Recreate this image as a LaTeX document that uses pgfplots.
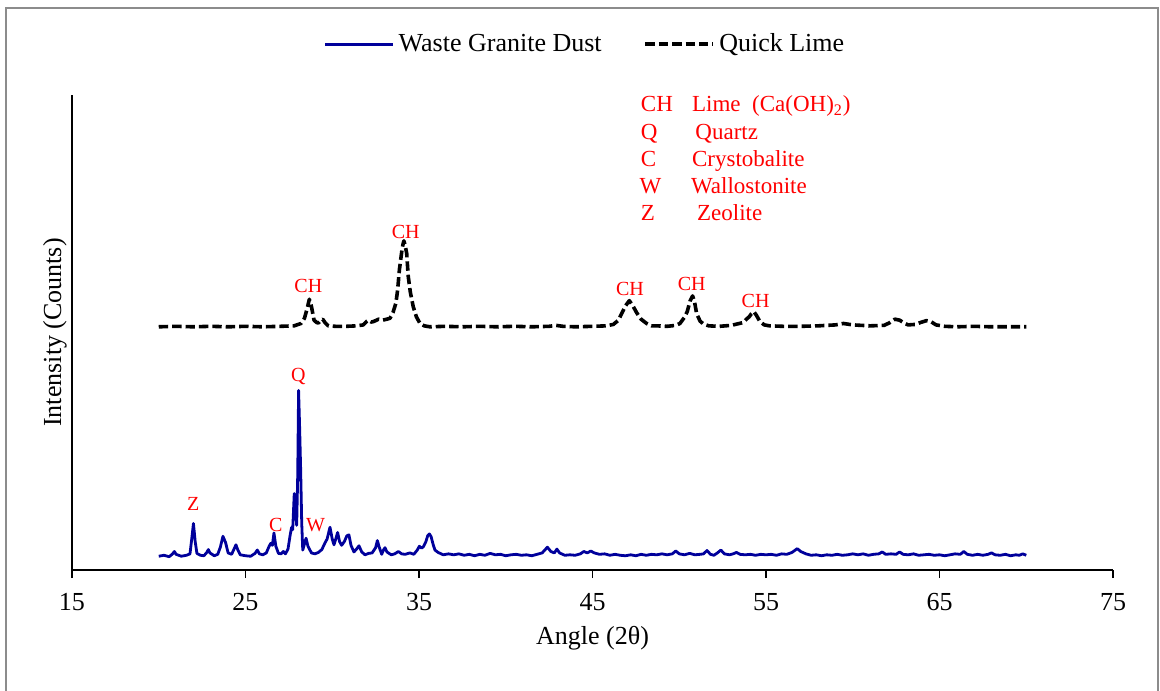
\documentclass[border=0pt]{standalone}
\usepackage{pgfplots}
\pgfplotsset{compat=1.18}
\usepackage{fontspec}
\setmainfont{Liberation Serif}
\definecolor{gdblue}{RGB}{0,0,155}
\begin{document}
\begin{tikzpicture}
\useasboundingbox (-36pt,-60pt) rectangle (544pt,285pt);
\draw[black!45, line width=0.8pt] (-33pt,-61pt) -- (-33pt,281pt) -- (543pt,281pt) -- (543pt,-61pt);
\begin{axis}[
  at={(0,0)}, anchor=south west,
  scale only axis, width=520.5pt, height=237.5pt,
  xmin=15, xmax=75, ymin=0, ymax=100,
  axis x line=bottom, axis y line=left,
  axis line style={-, black, line width=0.6pt},
  xtick={15,25,...,75}, ytick=\empty,
  tick align=outside, major tick length=4pt,
  tick style={black, line width=0.6pt},
  /pgf/number format/assume math mode=true,
  tick label style={font=\fontsize{13}{15}\selectfont},
  xticklabel style={yshift=-4pt},
  xlabel={Angle (2θ)}, ylabel={Intensity (Counts)},
  label style={font=\fontsize{13}{15}\selectfont},
  xlabel style={at={(axis description cs:0.5,0)}, anchor=center, yshift=-34pt},
  ylabel style={at={(axis description cs:-0.0163,0.5)}, anchor=center, rotate=0},
  clip=false,
  legend columns=2,
  legend style={at={(0.4938,1.107)}, anchor=center, draw=none, fill=none,
    font=\fontsize{13}{15}\selectfont,
    /tikz/every even column/.append style={column sep=19pt}},
  legend image code/.code={\draw[#1] (0pt,0pt) -- (34pt,0pt);},
]
\addplot[gdblue, line width=1.4pt, line join=round] coordinates {
(20.0,2.9)(20.3,3.1)(20.6,2.8)(20.8,3.4)(20.9,3.9)(21.0,3.3)(21.3,2.9)(21.6,3.1)(21.8,3.4)(21.9,6.5)(22.0,9.8)(22.1,6.0)(22.2,3.5)(22.4,3.1)(22.6,3.0)(22.75,3.6)(22.86,4.3)(22.95,3.6)(23.2,3.0)(23.4,3.3)(23.55,4.8)(23.7,7.1)(23.85,5.8)(24.0,3.6)(24.2,3.3)(24.35,4.5)(24.45,5.3)(24.55,4.3)(24.7,3.2)(25.0,3.0)(25.3,2.9)(25.55,3.5)(25.68,4.2)(25.8,3.4)(26.0,3.2)(26.2,3.6)(26.35,4.9)(26.45,5.6)(26.55,5.2)(26.64,7.8)(26.75,5.0)(26.9,3.5)(27.05,3.4)(27.18,3.9)(27.3,3.4)(27.45,4.4)(27.58,7.5)(27.66,9.0)(27.72,8.5)(27.81,16.1)(27.88,13.0)(27.95,9.4)(28.01,20.0)(28.06,37.8)(28.12,30.0)(28.18,21.0)(28.24,10.0)(28.3,4.2)(28.4,5.5)(28.49,6.7)(28.6,5.0)(28.8,3.6)(29.0,3.4)(29.2,3.7)(29.4,4.3)(29.58,5.7)(29.7,6.5)(29.87,9.0)(30.0,6.5)(30.1,5.3)(30.2,6.5)(30.31,7.9)(30.42,6.0)(30.54,5.2)(30.7,6.0)(30.84,7.2)(30.96,7.4)(31.08,5.2)(31.25,3.8)(31.4,4.4)(31.54,5.1)(31.7,3.8)(31.89,3.2)(32.1,3.5)(32.3,3.6)(32.5,4.7)(32.6,6.2)(32.7,4.9)(32.85,3.3)(32.95,4.2)(33.04,4.7)(33.15,3.8)(33.4,3.2)(33.6,3.4)(33.81,3.9)(34.0,3.4)(34.2,3.3)(34.48,3.6)(34.7,3.3)(34.9,4.2)(35.02,5.0)(35.15,4.6)(35.25,4.9)(35.4,6.0)(35.5,7.2)(35.6,7.6)(35.7,7.0)(35.82,5.3)(35.92,4.2)(36.1,3.7)(36.4,3.2)(36.7,3.4)(37.0,3.2)(37.3,3.4)(37.6,3.1)(37.9,3.3)(38.2,3.0)(38.5,3.3)(38.8,3.1)(39.1,3.5)(39.4,3.2)(39.7,3.3)(40.0,3.0)(40.3,3.2)(40.6,3.3)(40.9,3.1)(41.2,3.2)(41.5,3.0)(41.8,3.3)(42.1,3.6)(42.4,4.8)(42.6,3.9)(42.8,3.6)(42.95,4.4)(43.1,3.6)(43.4,3.1)(43.7,3.2)(44.0,3.1)(44.3,3.4)(44.5,3.9)(44.7,3.6)(44.9,4.0)(45.1,3.6)(45.4,3.3)(45.7,3.4)(46.0,3.1)(46.3,3.3)(46.6,3.1)(46.9,3.0)(47.2,3.2)(47.5,3.0)(47.8,3.3)(48.1,3.1)(48.4,3.3)(48.7,3.2)(49.0,3.4)(49.3,3.2)(49.6,3.4)(49.8,4.0)(50.0,3.4)(50.3,3.2)(50.6,3.5)(50.9,3.2)(51.2,3.3)(51.4,3.4)(51.6,4.1)(51.8,3.3)(52.0,3.1)(52.2,3.6)(52.4,4.2)(52.6,3.4)(52.9,3.2)(53.1,3.4)(53.3,3.7)(53.5,3.3)(53.8,3.2)(54.1,3.3)(54.4,3.1)(54.7,3.3)(55.0,3.2)(55.3,3.3)(55.6,3.1)(55.9,3.4)(56.2,3.3)(56.5,3.7)(56.8,4.5)(57.0,3.9)(57.3,3.4)(57.6,3.1)(57.9,3.2)(58.2,3.0)(58.5,3.2)(58.8,3.1)(59.1,3.3)(59.4,3.1)(59.7,3.2)(60.0,3.4)(60.3,3.2)(60.6,3.4)(60.9,3.1)(61.2,3.3)(61.5,3.4)(61.7,3.8)(61.9,3.3)(62.2,3.4)(62.5,3.3)(62.7,3.8)(62.9,3.3)(63.2,3.2)(63.5,3.4)(63.8,3.1)(64.1,3.2)(64.4,3.3)(64.7,3.1)(65.0,3.2)(65.3,3.0)(65.6,3.2)(65.9,3.4)(66.2,3.3)(66.4,3.9)(66.6,3.3)(66.9,3.1)(67.2,3.3)(67.5,3.1)(67.8,3.3)(68.0,3.6)(68.2,3.2)(68.5,3.1)(68.8,3.3)(69.1,3.0)(69.4,3.2)(69.6,3.1)(69.8,3.4)(70.0,3.1)
};
\addlegendentry{Waste Granite Dust}
\addplot[black, line width=1.8pt, dash pattern=on 4.7pt off 2pt, line join=round] coordinates {
(20,51.2)(21,51.3)(22,51.2)(23,51.3)(24,51.2)(25,51.3)(26,51.2)(27,51.3)(27.8,51.4)(28.2,51.9)(28.4,53.0)(28.55,55.0)(28.68,57.0)(28.8,55.5)(28.95,52.6)(29.1,52.1)(29.2,52.0)(29.35,52.6)(29.45,52.8)(29.6,52.0)(29.77,51.4)(30.2,51.3)(30.8,51.3)(31.4,51.4)(31.79,51.6)(32.0,52.4)(32.08,52.6)(32.25,52.2)(32.37,52.3)(32.5,52.5)(32.66,52.8)(32.9,52.6)(33.15,52.8)(33.33,53.0)(33.5,54.2)(33.67,56.2)(33.77,59.0)(33.87,63.2)(33.95,65.5)(34.02,67.4)(34.08,68.6)(34.13,69.3)(34.2,68.3)(34.29,66.7)(34.38,61.8)(34.5,58.5)(34.67,55.4)(34.85,53.3)(35.06,51.9)(35.3,51.4)(35.63,51.2)(36.5,51.3)(37.5,51.2)(38.5,51.3)(39.5,51.2)(40.5,51.3)(41.5,51.2)(42.5,51.3)(42.9,51.5)(43.3,51.3)(44,51.2)(45,51.3)(45.8,51.4)(46.2,51.7)(46.5,52.6)(46.68,54.0)(46.9,55.6)(47.12,56.7)(47.3,55.8)(47.54,54.2)(47.8,52.8)(48.12,51.9)(48.4,51.4)(48.7,51.4)(49.3,51.3)(49.8,51.5)(50.04,51.9)(50.3,53.2)(50.46,54.4)(50.62,56.6)(50.77,57.7)(50.88,56.5)(51.0,54.0)(51.2,52.4)(51.39,51.8)(51.7,51.4)(52.3,51.3)(53.0,51.5)(53.69,52.1)(53.9,52.9)(54.03,53.3)(54.15,53.9)(54.3,54.4)(54.45,53.6)(54.65,52.3)(54.9,51.6)(55.2,51.4)(56,51.3)(57,51.3)(58,51.4)(59,51.6)(59.46,51.9)(60,51.6)(61,51.4)(61.8,51.5)(62.1,52.0)(62.43,52.8)(62.7,52.6)(63.0,51.9)(63.2,51.6)(63.6,51.7)(63.9,52.1)(64.25,52.5)(64.5,52.3)(64.8,51.6)(65.3,51.3)(66,51.2)(67,51.3)(68,51.2)(69,51.2)(70,51.2)
};
\addlegendentry{Quick Lime}
% peak labels
\begin{scope}[every node/.style={text=red, font=\fontsize{10}{12}\selectfont, anchor=base, inner sep=0pt}]
\node at (axis cs:21.99,12.5) {Z};
\node at (axis cs:26.74,8.2) {C};
\node at (axis cs:29.04,8.2) {W};
\node at (axis cs:28.05,39.6) {Q};
\node at (axis cs:28.62,58.5) {CH};
\node at (axis cs:34.23,69.8) {CH};
\node at (axis cs:47.16,57.7) {CH};
\node at (axis cs:50.72,58.8) {CH};
\node at (axis cs:54.4,55.3) {CH};
\end{scope}
% key
\begin{scope}[every node/.style={text=red, font=\fontsize{11.5}{13}\selectfont, anchor=base west, inner sep=0pt}]
\node at (axis cs:47.77,96.5) {CH};
\node at (axis cs:50.72,96.5) {Lime~ (Ca(OH)\textsubscript{2})};
\node at (axis cs:47.77,90.7) {Q};
\node at (axis cs:50.91,90.7) {Quartz};
\node at (axis cs:47.77,84.9) {C};
\node at (axis cs:50.72,84.9) {Crystobalite};
\node at (axis cs:47.70,79.3) {W};
\node at (axis cs:50.66,79.3) {Wallostonite};
\node at (axis cs:47.77,73.5) {Z};
\node at (axis cs:51.01,73.5) {Zeolite};
\end{scope}
\end{axis}
\end{tikzpicture}
\end{document}
